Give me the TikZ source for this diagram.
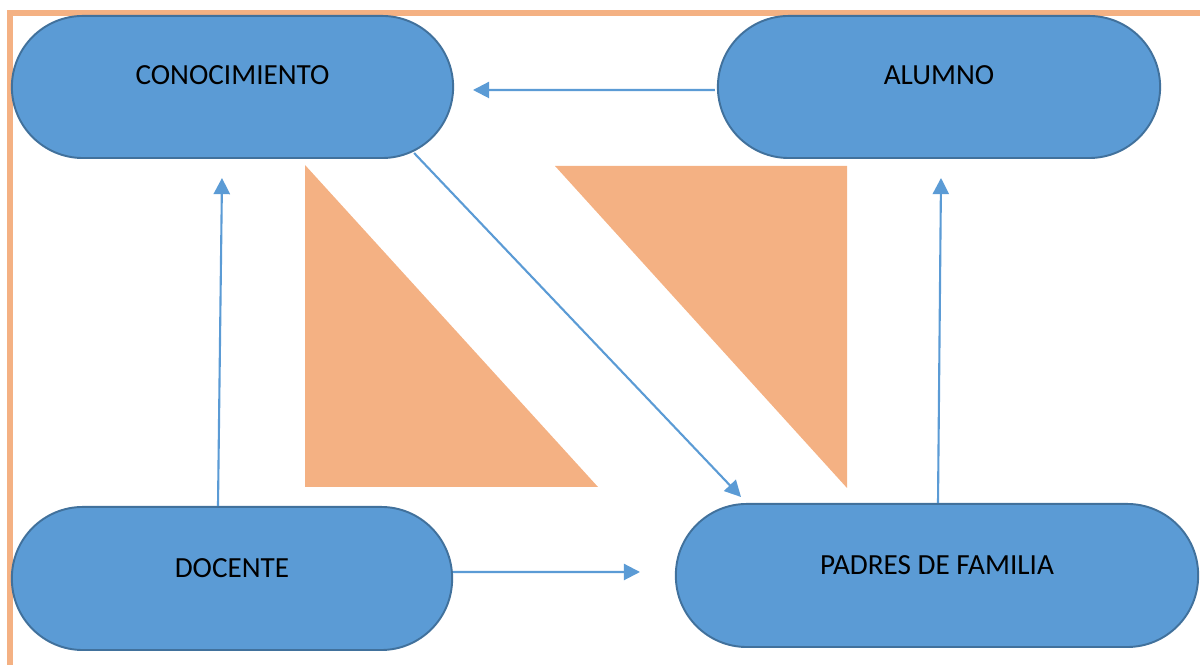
\documentclass[tikz,border=0pt]{standalone}
\usepackage{fontspec}
\setmainfont{Carlito}
\usetikzlibrary{arrows.meta,calc}
\definecolor{boxfill}{HTML}{5B9BD5}
\definecolor{boxline}{HTML}{41719C}
\definecolor{peach}{HTML}{F4B183}
\tikzset{
  box/.style={draw=boxline, fill=boxfill, line width=0.55pt, rectangle,
    rounded corners=0.71cm, inner sep=0pt, font=\fontsize{8.3}{10}\selectfont},
  arr/.style={draw=boxfill, line width=0.6pt, -{Triangle[length=4.6pt,width=4.6pt]}},
  tri/.style={fill=peach, draw=none}
}
\begin{document}
\begin{tikzpicture}[x=0.01cm,y=-0.01cm]
\useasboundingbox (0,0) rectangle (1200,665);
% border
\draw[peach, line width=1.45pt] (10,665) -- (10,13) -- (1200,13);
% triangles
\fill[tri] (305,165) -- (305,487) -- (598,487) -- cycle;
\fill[tri] (555,166) -- (847,166) -- (847,488) -- cycle;
% nodes
\node[box, minimum width=4.41cm, minimum height=1.42cm, text depth=0.24cm] (con) at (232.5,87) {CONOCIMIENTO};
\node[box, minimum width=4.42cm, minimum height=1.42cm, text depth=0.24cm] (alu) at (939,87) {ALUMNO};
\node[box, minimum width=4.40cm, minimum height=1.43cm, text depth=0.20cm] (doc) at (232,578.5) {DOCENTE};
\node[box, minimum width=5.22cm, minimum height=1.43cm, text depth=0.20cm] (pad) at (937,575.5) {PADRES DE FAMILIA};
% arrow tips
\coordinate (t1) at (473,90);
\coordinate (t2) at (222,178);
\coordinate (t3) at (640,572);
\coordinate (t4) at (941,178);
\coordinate (t5) at (741,497);
% connectors
\draw[arr] ([xshift=-0.02cm,yshift=-0.03cm]alu.west) -- (t1);
\draw[arr] ([xshift=-0.14cm]doc.north) -- (t2);
\draw[arr] ([yshift=0.065cm]doc.east) -- (t3);
\draw[arr] ([xshift=0.01cm]pad.north) -- (t4);
\draw[arr] ([shift={(-0.4cm,0.06cm)}]con.south east) -- (t5);
\end{tikzpicture}
\end{document}
